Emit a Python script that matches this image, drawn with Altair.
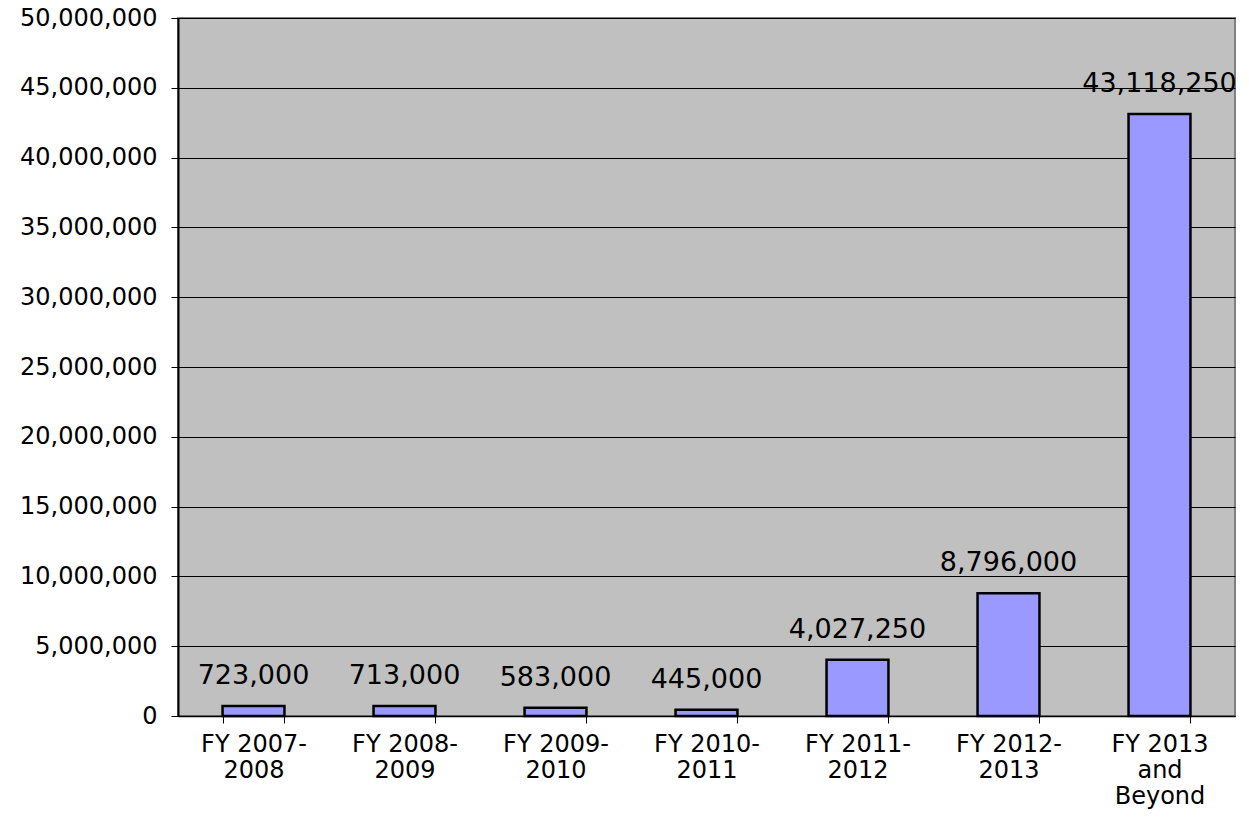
import altair as alt
import pandas as pd

categories = ["FY 2007-\n2008", "FY 2008-\n2009", "FY 2009-\n2010", "FY 2010-\n2011",
              "FY 2011-\n2012", "FY 2012-\n2013", "FY 2013\nand\nBeyond"]
values = [723000, 713000, 583000, 445000, 4027250, 8796000, 43118250]
y_ticks = [0, 5000000, 10000000, 15000000, 20000000, 25000000, 30000000, 35000000, 40000000, 45000000, 50000000]

df = pd.DataFrame({"cat": categories, "val": values})

FONT = "DejaVu Sans"

base = alt.Chart(df).encode(
    x=alt.X("cat:N", sort=categories, title=None,
            scale=alt.Scale(paddingInner=0.59, paddingOuter=0.295),
            axis=alt.Axis(labelAngle=0, labelExpr="split(datum.label, '\\n')",
                          tickBand="extent", tickSize=7, tickColor="black",
                          domainColor="black", domainWidth=1.5,
                          labelFont=FONT, labelFontSize=24, labelColor="black",
                          labelLineHeight=26, labelPadding=9, labelBaseline="top")),
    y=alt.Y("val:Q", title=None,
            scale=alt.Scale(domain=[0, 50000000], nice=False),
            axis=alt.Axis(values=y_ticks, format=",d", grid=True, gridColor="black",
                          gridWidth=1, tickSize=7, tickColor="black",
                          domainColor="black", domainWidth=2,
                          labelFont=FONT, labelFontSize=24, labelColor="black",
                          labelPadding=14)),
)

bars = base.mark_bar(color="#9999FF", stroke="black", strokeWidth=2.5)
labels = base.mark_text(baseline="bottom", dy=-16, font=FONT, fontSize=27, color="black").encode(
    text=alt.Text("val:Q", format=",d"))

chart = (bars + labels).properties(
    width=1057, height=698,
    autosize=alt.AutoSizeParams(type="none"),
    padding={"left": 178, "top": 18, "right": 14, "bottom": 103},
).configure_view(fill="#C0C0C0", stroke="#808080", strokeWidth=2)

chart.save("out.html", embed_options={"renderer": "svg", "actions": False})
